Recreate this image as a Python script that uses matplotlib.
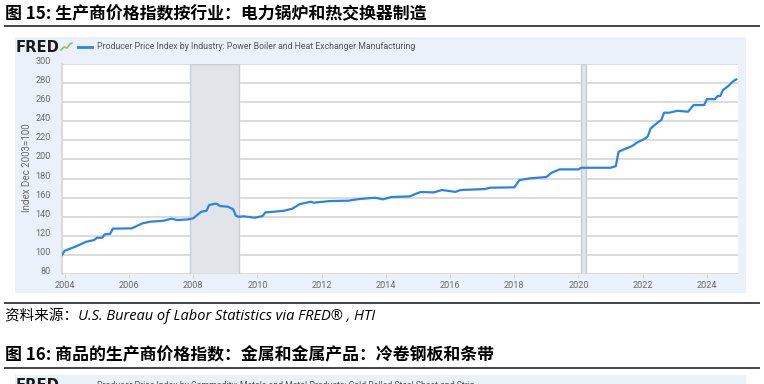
import matplotlib
matplotlib.use("Agg")
import matplotlib.pyplot as plt
import matplotlib.dates as mdates
import matplotlib.transforms as mtransforms
from matplotlib.patches import Rectangle
from matplotlib.lines import Line2D
import pandas as pd

W, H = 764, 384

# values (index Dec 2003 = 100)
dates = ["2003-12", "2004-01", "2004-05", "2004-09", "2004-12", "2005-01", "2005-03",
         "2005-04", "2005-06", "2005-07", "2006-02", "2006-06", "2006-09", "2007-02",
         "2007-05", "2007-07", "2007-11", "2008-01", "2008-04", "2008-06", "2008-07",
         "2008-09", "2008-10", "2008-11", "2009-02", "2009-04", "2009-05", "2009-06",
         "2009-08", "2009-12", "2010-03", "2010-04", "2010-07", "2010-11", "2011-02",
         "2011-05", "2011-09", "2011-10", "2012-02", "2012-04", "2012-11", "2013-03",
         "2013-09", "2013-12", "2014-03", "2014-10", "2014-12", "2015-02", "2015-07",
         "2015-10", "2015-12", "2016-03", "2016-05", "2017-02", "2017-04", "2018-01",
         "2018-03", "2018-07", "2019-01", "2019-03", "2019-06", "2020-01", "2020-02",
         "2021-01", "2021-03", "2021-04", "2021-06", "2021-09", "2021-11", "2022-02",
         "2022-03", "2022-04", "2022-07", "2022-08", "2022-09", "2022-11", "2023-02",
         "2023-06", "2023-08", "2023-12", "2024-01", "2024-04", "2024-05", "2024-06",
         "2024-07", "2024-09", "2024-11", "2024-12"]
ppi = [100, 104.4, 108.6, 113.8, 115.6, 118, 118,
       121.6, 122, 127.5, 127.8, 133, 134.8, 135.8,
       138, 136.5, 137.2, 138.3, 145.2, 146.3, 152.2,
       153.6, 153.3, 151.2, 150.5, 147.7, 141, 140,
       140.4, 139, 140.7, 144.6, 145.2, 146.3, 148.4,
       153.3, 155.7, 154.7, 155.8, 156.4, 156.8, 158.5,
       159.9, 158.2, 160.6, 161.3, 163.8, 165.9, 165.5,
       168, 167.2, 166.0, 168, 169, 170.4, 170.8,
       178.4, 180.2, 181.6, 186.1, 189.6, 189.6, 191.3,
       191.3, 193, 208, 210.5, 214, 217.9, 222,
       224.5, 232.5, 239.5, 241.3, 249, 249, 251,
       250, 257, 257, 263.2, 263.2, 266.4, 266.4,
       272.7, 276.9, 282.4, 283.9]

recessions = [("2007-12-01", "2009-06-01"), ("2020-02-01", "2020-04-01")]
y_ticks = [80, 100, 120, 140, 160, 180, 200, 220, 240, 260, 280, 300]
x_years = [2004, 2006, 2008, 2010, 2012, 2014, 2016, 2018, 2020, 2022, 2024]

title15 = "图 15: 生产商价格指数按行业：电力锅炉和热交换器制造"
title16 = "图 16: 商品的生产商价格指数：金属和金属产品：冷卷钢板和条带"
source = "资料来源：U.S. Bureau of Labor Statistics via FRED® , HTI"
series_name = "Producer Price Index by Industry: Power Boiler and Heat Exchanger Manufacturing"
series16 = "Producer Price Index by Commodity: Metals and Metal Products: Cold Rolled Steel Sheet and Strip"

cjk = ["Noto Sans CJK SC", "DejaVu Sans"]
line_blue = "#2a84e6"
grey_txt = "#6b6b6b"


def fx(px):
    return px / W


def fy(py):
    return 1 - py / H


fig = plt.figure(figsize=(W / 100, H / 100), dpi=100)
fig.patch.set_facecolor("white")

# titles and separator rules of the report page
fig.text(fx(5), fy(14), title15, family=cjk, fontsize=12.2, fontweight="bold",
         va="center", ha="left", color="black")
fig.add_artist(Line2D([fx(5), fx(759)], [fy(26), fy(26)], color="#444444", lw=1.4,
                      transform=fig.transFigure))

fig.add_artist(Line2D([fx(5), fx(759)], [fy(303), fy(303)], color="#444444", lw=1.4,
                      transform=fig.transFigure))
fig.text(fx(5), fy(316), source, family=["Open Sans", "Noto Sans CJK SC"], style="italic",
         fontsize=10.5, va="center", ha="left", color="black")

fig.text(fx(5), fy(355), title16, family=cjk, fontsize=12.2, fontweight="bold",
         va="center", ha="left", color="black")
fig.add_artist(Line2D([fx(5), fx(759)], [fy(368), fy(368)], color="#444444", lw=1.4,
                      transform=fig.transFigure))

# FRED panels
panel_bg = "#eaf1fa"
fig.add_artist(Rectangle((fx(15), fy(293)), fx(746) - fx(15), fy(37) - fy(293),
                         transform=fig.transFigure, facecolor=panel_bg, edgecolor="none", zorder=0))
fig.add_artist(Rectangle((fx(15), fy(400)), fx(746) - fx(15), fy(375) - fy(400),
                         transform=fig.transFigure, facecolor=panel_bg, edgecolor="none", zorder=0))

fig.text(fx(16), fy(47), "FRED", family="DejaVu Sans", fontweight="heavy", fontsize=10.6,
         va="center", ha="left", color="#1a1a1a")
fig.add_artist(Line2D([fx(61), fx(64), fx(67), fx(70), fx(72)],
                      [fy(50), fy(47), fy(48), fy(44), fy(43)], color="#8cc06a", lw=1.2,
                      transform=fig.transFigure))
fig.add_artist(Line2D([fx(78), fx(92)], [fy(46.5), fy(46.5)], color=line_blue, lw=2,
                      transform=fig.transFigure))
fig.text(fx(97), fy(46.5), series_name, family="Roboto", fontsize=6.3, va="center",
         ha="left", color="#555555")

fig.text(fx(16), fy(386), "FRED", family="DejaVu Sans", fontweight="heavy", fontsize=10.6,
         va="center", ha="left", color="#1a1a1a")
fig.add_artist(Line2D([fx(78), fx(92)], [fy(386), fy(386)], color=line_blue, lw=2,
                      transform=fig.transFigure))
fig.text(fx(97), fy(386), series16, family="Roboto", fontsize=6.3, va="center",
         ha="left", color="#555555")

# chart
ax = fig.add_axes([fx(62), fy(274), fx(738) - fx(62), fy(64) - fy(274)])
ax.set_facecolor("white")

x = pd.to_datetime(dates)
for start, end in recessions:
    ax.axvspan(pd.Timestamp(start), pd.Timestamp(end), facecolor="#e1e5ea",
               edgecolor="#c9cdd2", lw=1.0, zorder=1)

ax.plot(x, ppi, color=line_blue, lw=1.6, zorder=3, solid_joinstyle="round")

ax.set_xlim(pd.Timestamp("2003-12-01"), pd.Timestamp("2024-12-20"))
ax.set_ylim(80, 300)
ax.set_yticks(y_ticks)
ax.set_xticks([pd.Timestamp(f"{y}-01-01") for y in x_years])
ax.xaxis.set_major_formatter(mdates.DateFormatter("%Y"))
ax.grid(axis="y", color="#d6d6d6", lw=1.2, zorder=0)
ax.set_axisbelow(True)

for side in ["top", "right", "bottom"]:
    ax.spines[side].set_visible(False)
ax.spines["left"].set_color("#d6d6d6")
ax.spines["left"].set_linewidth(1.2)

ax.tick_params(axis="y", length=0, pad=8, labelsize=6.6, labelcolor=grey_txt)
ax.tick_params(axis="x", length=3, width=0.8, color="#d6d6d6", pad=2,
               labelsize=6.6, labelcolor=grey_txt)
for lab in ax.get_yticklabels():
    lab.set_family("Roboto")
    lab.set_transform(lab.get_transform() + mtransforms.ScaledTranslation(0, 3.5 / 100, fig.dpi_scale_trans))
for lab in ax.get_xticklabels():
    lab.set_family("Roboto")

fig.text(fx(27), fy(168), "Index Dec 2003=100", rotation=90, family="Roboto", fontsize=7,
         va="center", ha="center", color=grey_txt)

fig.savefig("out.png", dpi=100)
